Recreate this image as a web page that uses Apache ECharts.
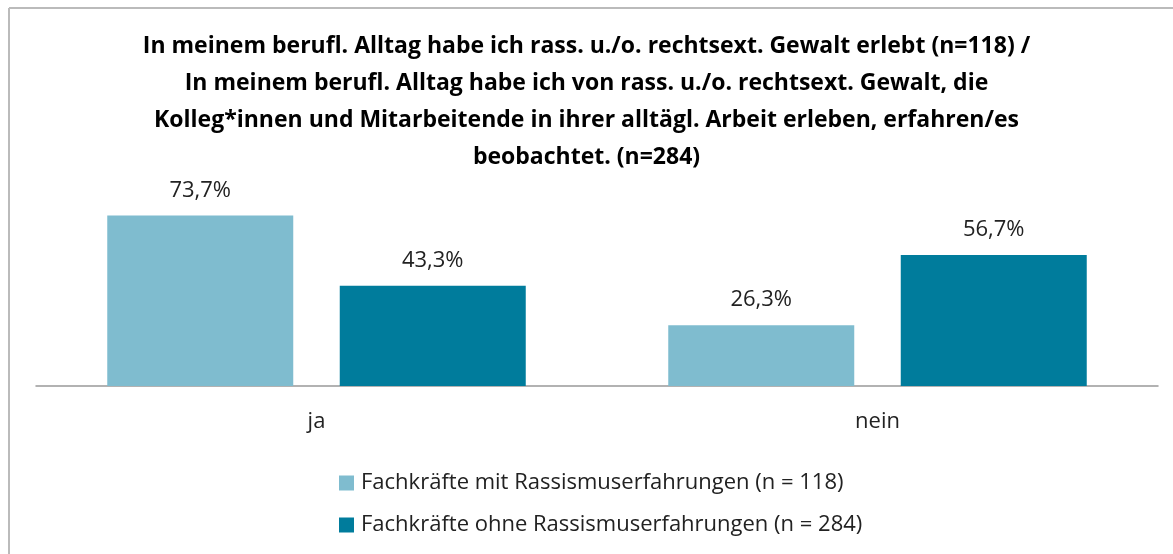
<!DOCTYPE html>
<html>
<head>
<meta charset="utf-8">
<script src="https://cdn.jsdelivr.net/npm/echarts@6/dist/echarts.min.js"></script>
<style>
  html, body { margin: 0; padding: 0; background: #fff; }
  #chart { width: 1173px; height: 554px; }
</style>
</head>
<body>
<div id="chart"></div>
<script>
// Kategorien und Werte (in %)
const categories = ['ja', 'nein']
const seriesNames = [
  'Fachkräfte mit Rassismuserfahrungen (n = 118)',
  'Fachkräfte ohne Rassismuserfahrungen (n = 284)'
]
const mitValues = [73.7, 26.3]
const ohneValues = [43.3, 56.7]

const titleText = 'In meinem berufl. Alltag habe ich rass. u./o. rechtsext. Gewalt erlebt (n=118) /\n' +
  'In meinem berufl. Alltag habe ich von rass. u./o. rechtsext. Gewalt, die\n' +
  'Kolleg*innen und Mitarbeitende in ihrer alltägl. Arbeit erleben, erfahren/es\n' +
  'beobachtet. (n=284)'

const font = "'Open Sans', sans-serif"
const labelFont = "'Open Sans', 'Noto Sans', sans-serif"

// Prozent mit Komma
const fmt = p => p.value.toFixed(1).replace('.', ',') + '%'

const chart = echarts.init(document.getElementById('chart'))
chart.setOption({
  animation: false,
  color: ['#7fbccf', '#007c9c'],
  title: {
    text: titleText,
    left: 'center',
    top: 23,
    textStyle: {
      fontFamily: font,
      fontWeight: 'bold',
      fontSize: 23,
      lineHeight: 37,
      color: '#000'
    }
  },
  legend: {
    orient: 'vertical',
    left: 334,
    top: 467,
    itemWidth: 15,
    itemHeight: 15,
    itemGap: 20,
    icon: 'rect',
    data: seriesNames,
    textStyle: { fontFamily: labelFont, fontSize: 22, color: '#222', padding: [0, 0, 0, 2] }
  },
  grid: { left: 36, right: 15, top: 201, bottom: 168 },
  xAxis: {
    type: 'category',
    data: categories,
    axisTick: { show: false },
    axisLine: { lineStyle: { color: '#999', width: 1.5 } },
    axisLabel: { fontFamily: labelFont, fontSize: 22, color: '#222', margin: 25 }
  },
  yAxis: {
    type: 'value',
    min: 0,
    max: 80,
    show: false
  },
  graphic: [
    { type: 'line', shape: { x1: 9, y1: 8, x2: 1173, y2: 8 }, style: { stroke: '#bbb', lineWidth: 2 } },
    { type: 'line', shape: { x1: 9, y1: 8, x2: 9, y2: 554 }, style: { stroke: '#bbb', lineWidth: 2 } }
  ],
  series: [
    {
      name: seriesNames[0],
      type: 'bar',
      data: mitValues,
      barWidth: 186,
      barGap: '25%',
      label: { show: true, position: 'top', distance: 14, formatter: fmt, fontFamily: labelFont, fontSize: 22, color: '#222' }
    },
    {
      name: seriesNames[1],
      type: 'bar',
      data: ohneValues,
      barWidth: 186,
      barGap: '25%',
      label: { show: true, position: 'top', distance: 14, formatter: fmt, fontFamily: labelFont, fontSize: 22, color: '#222' }
    }
  ]
})
</script>
</body>
</html>
